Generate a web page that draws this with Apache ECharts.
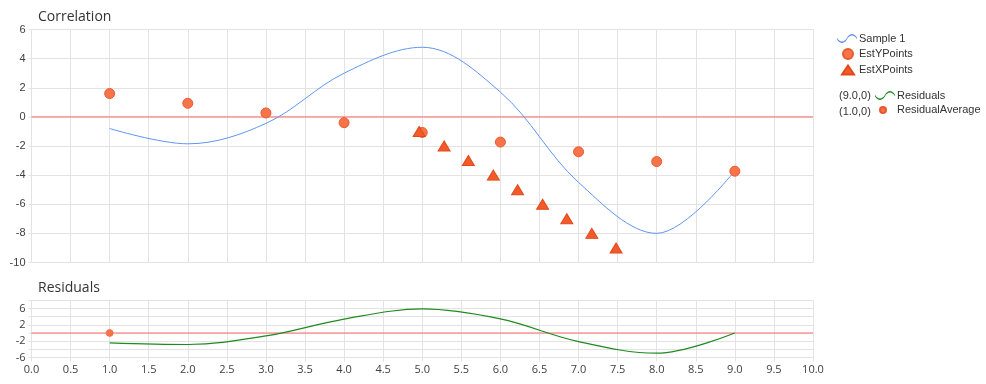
<!DOCTYPE html>
<html>
<head>
<meta charset="utf-8">
<script src="https://cdn.jsdelivr.net/npm/echarts@6/dist/echarts.min.js"></script>
<style>html,body{margin:0;padding:0;background:#fff;}#main{width:986px;height:384px;}</style>
</head>
<body>
<div id="main"></div>
<script>
// ---- data ----
var sampleX = [1, 2, 3, 4, 5, 6, 7, 8, 9];
var sampleY = [-0.8, -1.85, -0.45, 3.0, 4.78, 1.7, -4.5, -8.0, -3.7];
var estYX = [1, 2, 3, 4, 5, 6, 7, 8, 9];
var estYY = [1.6, 0.93, 0.27, -0.4, -1.07, -1.73, -2.4, -3.07, -3.73];
var estXX = [4.96, 5.28, 5.59, 5.91, 6.22, 6.54, 6.85, 7.17, 7.48];
var estXY = [-1, -2, -3, -4, -5, -6, -7, -8, -9];
var residX = [1, 2, 3, 4, 5, 6, 7, 8, 9];
var residY = [-2.4, -2.8, -0.72, 3.4, 5.87, 3.43, -2.1, -4.93, 0];
var residAvgX = [1.0];
var residAvgY = [0];
var zeroX = [0, 10];
var zeroY = [0, 0];
var legendPrefixes = ['(9.0,0)', '(1.0,0)'];
var titles = ['Correlation', 'Residuals'];

function zip(a, b) { return a.map(function (v, i) { return [v, b[i]]; }); }

var waveIcon = 'path://M0,5 C3,10 7,10 10,5 C13,0 17,0 20,5 L20,6.4 C17,1.4 13,1.4 10,6.4 C7,11.4 3,11.4 0,6.4 Z';
var smallDot = 'path://M0,0 M20,10 M5,5 a3,3 0 1,0 6,0 a3,3 0 1,0 -6,0 Z';
var triIcon = 'path://M0,0 M20,10 M5,9.5 L11,0.5 L17,9.5 Z';
var circIcon = 'path://M0,0 M20,10 M6,5 a5,5 0 1,0 10,0 a5,5 0 1,0 -10,0 Z';

var gridColor = '#e3e3e3';
var zeroColor = '#ff6a6a';
var labelFont = { fontFamily: 'Liberation Sans', fontSize: 11, color: '#404040' };
var labelFont2 = { fontFamily: 'Open Sans', fontSize: 11, color: '#404040' };
var legendText = { fontFamily: 'Liberation Sans', fontSize: 11, color: '#333', padding: [0, 0, 0, -3] };

var chart = echarts.init(document.getElementById('main'));
chart.setOption({
  animation: false,
  backgroundColor: '#fff',
  title: [
    { text: titles[0], left: 33, top: 5, textStyle: { fontFamily: 'Open Sans', fontSize: 14, fontWeight: 'normal', color: '#333' } },
    { text: titles[1], left: 33, top: 276, textStyle: { fontFamily: 'Open Sans', fontSize: 14, fontWeight: 'normal', color: '#333' } }
  ],
  grid: [
    { left: 31.5, right: 173, top: 29.5, height: 233 },
    { left: 31.5, right: 173, top: 300.2, height: 57.4 }
  ],
  xAxis: [
    { type: 'value', gridIndex: 0, min: 0, max: 10, interval: 0.5,
      axisLabel: { show: false }, axisTick: { show: false },
      axisLine: { show: false, onZero: false },
      splitLine: { show: true, lineStyle: { color: gridColor, width: 1 } } },
    { type: 'value', gridIndex: 1, min: 0, max: 10, interval: 0.5,
      axisLabel: Object.assign({ margin: 7, formatter: function (v) { return v.toFixed(1); } }, labelFont2),
      axisTick: { show: true, length: 4, lineStyle: { color: gridColor } },
      axisLine: { show: true, onZero: false, lineStyle: { color: gridColor } },
      splitLine: { show: true, lineStyle: { color: gridColor, width: 1 } } }
  ],
  yAxis: [
    { type: 'value', gridIndex: 0, min: -10, max: 6, interval: 2,
      axisLabel: Object.assign({ margin: 6 }, labelFont),
      axisTick: { show: true, length: 3, lineStyle: { color: gridColor } },
      axisLine: { show: false, onZero: false },
      splitLine: { show: true, lineStyle: { color: gridColor, width: 1 } } },
    { type: 'value', gridIndex: 1, min: -6, max: 8, interval: 2,
      axisLabel: Object.assign({ margin: 6, formatter: function (v) { return ((v + 6) % 4 === 0) ? String(v) : ''; } }, labelFont2),
      axisTick: { show: true, length: 3, lineStyle: { color: gridColor } },
      axisLine: { show: false, onZero: false },
      splitLine: { show: true, lineStyle: { color: gridColor, width: 1 } } }
  ],
  legend: [
    { orient: 'vertical', left: 836, top: 33, padding: 0, itemWidth: 20, itemHeight: 10, itemGap: 4,
      textStyle: legendText,
      data: [
        { name: 'Sample 1', icon: waveIcon },
        { name: 'EstYPoints', icon: circIcon },
        { name: 'EstXPoints', icon: triIcon }
      ] },
    { orient: 'vertical', left: 874, top: 90, padding: 0, itemWidth: 20, itemHeight: 10, itemGap: 3,
      textStyle: legendText,
      data: [
        { name: 'Residuals', icon: waveIcon },
        { name: 'ResidualAverage', icon: smallDot }
      ] }
  ],
  graphic: [
    { type: 'text', left: 839, top: 90, style: { text: legendPrefixes[0], font: '11px "Liberation Sans"', fill: '#333' } },
    { type: 'text', left: 839, top: 106, style: { text: legendPrefixes[1], font: '11px "Liberation Sans"', fill: '#333' } }
  ],
  series: [
    { name: 'zeroTop', type: 'line', xAxisIndex: 0, yAxisIndex: 0, showSymbol: false, silent: true,
      data: zip(zeroX, zeroY), lineStyle: { color: zeroColor, width: 1 }, itemStyle: { color: zeroColor }, zlevel: 1, z: 2 },
    { name: 'zeroBottom', type: 'line', xAxisIndex: 1, yAxisIndex: 1, showSymbol: false, silent: true,
      data: zip(zeroX, zeroY), lineStyle: { color: zeroColor, width: 1 }, itemStyle: { color: zeroColor }, zlevel: 1, z: 2 },
    { name: 'Sample 1', type: 'line', xAxisIndex: 0, yAxisIndex: 0, smooth: 0.35,
      showSymbol: false, data: zip(sampleX, sampleY),
      itemStyle: { color: '#5f95f0' }, lineStyle: { color: '#5f95f0', width: 1 }, zlevel: 1, z: 3 },
    { name: 'EstYPoints', type: 'scatter', xAxisIndex: 0, yAxisIndex: 0, symbol: 'circle', symbolSize: 10,
      data: zip(estYX, estYY),
      itemStyle: { color: '#f7744a', borderColor: '#e85a2e', borderWidth: 1, opacity: 1 }, zlevel: 1, z: 4 },
    { name: 'EstXPoints', type: 'scatter', xAxisIndex: 0, yAxisIndex: 0, symbol: 'triangle', symbolSize: [12, 10],
      data: zip(estXX, estXY),
      itemStyle: { color: '#f25a2a', borderColor: '#e04a1a', borderWidth: 1, opacity: 1 }, zlevel: 1, z: 5 },
    { name: 'Residuals', type: 'line', xAxisIndex: 1, yAxisIndex: 1, smooth: 0.35,
      showSymbol: false, data: zip(residX, residY),
      itemStyle: { color: '#1f8a1f' }, lineStyle: { color: '#1f8a1f', width: 1.2 }, zlevel: 1, z: 3 },
    { name: 'ResidualAverage', type: 'scatter', xAxisIndex: 1, yAxisIndex: 1, symbol: 'circle', symbolSize: 7,
      data: zip(residAvgX, residAvgY),
      itemStyle: { color: '#f7744a', borderColor: '#e85a2e', borderWidth: 0.5, opacity: 1 }, zlevel: 1, z: 4 }
  ]
});
</script>
</body>
</html>
